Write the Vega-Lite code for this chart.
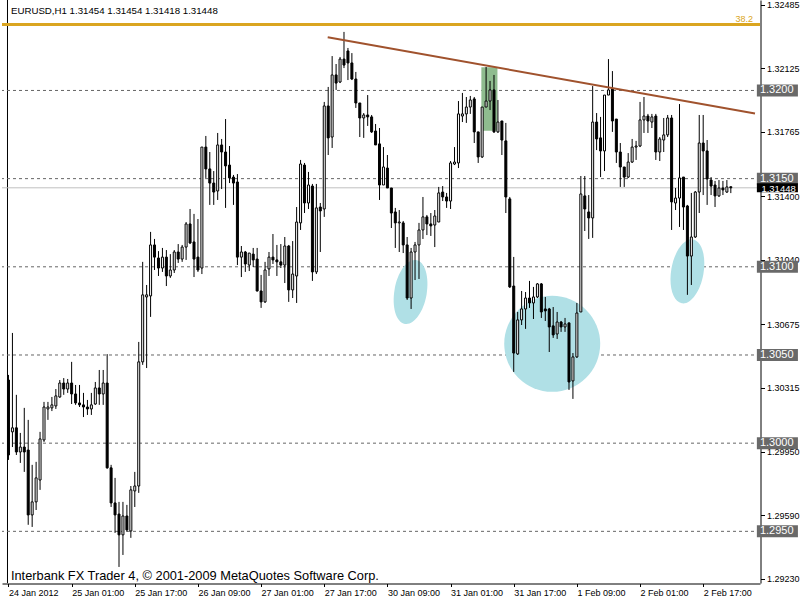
{
"$schema":"https://vega.github.io/schema/vega-lite/v6.json",
"width":758,"height":583,
"autosize":{"type":"none"},
"padding":{"left":2,"top":0,"right":40,"bottom":17},
"background":"white",
"config":{"view":{"stroke":null},"font":"Liberation Sans","axis":{"grid":false}},
"datasets":{
"candles":[
{"i":0,"o":1.30358,"h":1.30387,"l":1.29905,"c":1.29933},
{"i":1,"o":1.30064,"h":1.30625,"l":1.29978,"c":1.30087},
{"i":2,"o":1.30087,"h":1.30274,"l":1.29933,"c":1.29950},
{"i":3,"o":1.29950,"h":1.30058,"l":1.29888,"c":1.29978},
{"i":4,"o":1.29978,"h":1.30200,"l":1.29837,"c":1.29950},
{"i":5,"o":1.29961,"h":1.30132,"l":1.29537,"c":1.29593},
{"i":6,"o":1.29593,"h":1.29877,"l":1.29525,"c":1.29667},
{"i":7,"o":1.29667,"h":1.29894,"l":1.29621,"c":1.29803},
{"i":8,"o":1.29791,"h":1.30064,"l":1.29735,"c":1.30024},
{"i":9,"o":1.30018,"h":1.30234,"l":1.30007,"c":1.30205},
{"i":10,"o":1.30194,"h":1.30234,"l":1.30132,"c":1.30205},
{"i":11,"o":1.30200,"h":1.30262,"l":1.30182,"c":1.30217},
{"i":12,"o":1.30211,"h":1.30307,"l":1.30194,"c":1.30268},
{"i":13,"o":1.30262,"h":1.30358,"l":1.30257,"c":1.30341},
{"i":14,"o":1.30341,"h":1.30369,"l":1.30274,"c":1.30307},
{"i":15,"o":1.30307,"h":1.30364,"l":1.30285,"c":1.30341},
{"i":16,"o":1.30341,"h":1.30461,"l":1.30222,"c":1.30279},
{"i":17,"o":1.30279,"h":1.30330,"l":1.30217,"c":1.30228},
{"i":18,"o":1.30228,"h":1.30330,"l":1.30205,"c":1.30217},
{"i":19,"o":1.30217,"h":1.30285,"l":1.30148,"c":1.30205},
{"i":20,"o":1.30205,"h":1.30245,"l":1.30160,"c":1.30194},
{"i":21,"o":1.30194,"h":1.30285,"l":1.30160,"c":1.30217},
{"i":22,"o":1.30222,"h":1.30347,"l":1.30217,"c":1.30313},
{"i":23,"o":1.30313,"h":1.30415,"l":1.30217,"c":1.30279},
{"i":24,"o":1.30279,"h":1.30415,"l":1.30217,"c":1.30341},
{"i":25,"o":1.30341,"h":1.30505,"l":1.29855,"c":1.29860},
{"i":26,"o":1.29860,"h":1.29877,"l":1.29638,"c":1.29661},
{"i":27,"o":1.29661,"h":1.29803,"l":1.29491,"c":1.29593},
{"i":28,"o":1.29598,"h":1.29667,"l":1.29298,"c":1.29480},
{"i":29,"o":1.29480,"h":1.29667,"l":1.29366,"c":1.29587},
{"i":30,"o":1.29587,"h":1.29650,"l":1.29497,"c":1.29508},
{"i":31,"o":1.29502,"h":1.29757,"l":1.29463,"c":1.29735},
{"i":32,"o":1.29729,"h":1.29837,"l":1.29638,"c":1.29757},
{"i":33,"o":1.29757,"h":1.30574,"l":1.29718,"c":1.30461},
{"i":34,"o":1.30461,"h":1.31028,"l":1.30444,"c":1.30841},
{"i":35,"o":1.30829,"h":1.30897,"l":1.30426,"c":1.30841},
{"i":36,"o":1.30835,"h":1.31198,"l":1.30716,"c":1.31124},
{"i":37,"o":1.31124,"h":1.31158,"l":1.30982,"c":1.31055},
{"i":38,"o":1.31050,"h":1.31089,"l":1.30948,"c":1.30993},
{"i":39,"o":1.30993,"h":1.31107,"l":1.30971,"c":1.31055},
{"i":40,"o":1.31055,"h":1.31095,"l":1.30891,"c":1.30948},
{"i":41,"o":1.30948,"h":1.31072,"l":1.30937,"c":1.30982},
{"i":42,"o":1.30982,"h":1.31095,"l":1.30965,"c":1.31084},
{"i":43,"o":1.31084,"h":1.31129,"l":1.31022,"c":1.31044},
{"i":44,"o":1.31044,"h":1.31124,"l":1.31028,"c":1.31112},
{"i":45,"o":1.31112,"h":1.31254,"l":1.31039,"c":1.31243},
{"i":46,"o":1.31243,"h":1.31328,"l":1.31129,"c":1.31135},
{"i":47,"o":1.31141,"h":1.31300,"l":1.30942,"c":1.31044},
{"i":48,"o":1.31055,"h":1.31271,"l":1.30971,"c":1.30982},
{"i":49,"o":1.30993,"h":1.31679,"l":1.30959,"c":1.31679},
{"i":50,"o":1.31679,"h":1.31742,"l":1.31504,"c":1.31555},
{"i":51,"o":1.31555,"h":1.31651,"l":1.31351,"c":1.31475},
{"i":52,"o":1.31475,"h":1.31543,"l":1.31351,"c":1.31424},
{"i":53,"o":1.31430,"h":1.31759,"l":1.31379,"c":1.31691},
{"i":54,"o":1.31691,"h":1.31725,"l":1.31441,"c":1.31651},
{"i":55,"o":1.31651,"h":1.31838,"l":1.31334,"c":1.31572},
{"i":56,"o":1.31577,"h":1.31685,"l":1.31475,"c":1.31504},
{"i":57,"o":1.31509,"h":1.31521,"l":1.31351,"c":1.31475},
{"i":58,"o":1.31481,"h":1.31526,"l":1.31010,"c":1.31055},
{"i":59,"o":1.31055,"h":1.31118,"l":1.30942,"c":1.31084},
{"i":60,"o":1.31084,"h":1.31090,"l":1.30971,"c":1.31016},
{"i":61,"o":1.31010,"h":1.31078,"l":1.30976,"c":1.31078},
{"i":62,"o":1.31072,"h":1.31107,"l":1.30999,"c":1.31039},
{"i":63,"o":1.31044,"h":1.31107,"l":1.30860,"c":1.30863},
{"i":64,"o":1.30863,"h":1.30954,"l":1.30767,"c":1.30801},
{"i":65,"o":1.30801,"h":1.31028,"l":1.30795,"c":1.30982},
{"i":66,"o":1.30988,"h":1.31084,"l":1.30948,"c":1.31055},
{"i":67,"o":1.31055,"h":1.31186,"l":1.31016,"c":1.31039},
{"i":68,"o":1.31039,"h":1.31124,"l":1.30948,"c":1.31028},
{"i":69,"o":1.31028,"h":1.31129,"l":1.30993,"c":1.31010},
{"i":70,"o":1.31010,"h":1.31169,"l":1.30908,"c":1.31118},
{"i":71,"o":1.31118,"h":1.31124,"l":1.30801,"c":1.30869},
{"i":72,"o":1.30869,"h":1.31146,"l":1.30823,"c":1.30959},
{"i":73,"o":1.30948,"h":1.31339,"l":1.30795,"c":1.31254},
{"i":74,"o":1.31249,"h":1.31606,"l":1.31209,"c":1.31583},
{"i":75,"o":1.31577,"h":1.31589,"l":1.31305,"c":1.31362},
{"i":76,"o":1.31362,"h":1.31538,"l":1.31328,"c":1.31464},
{"i":77,"o":1.31458,"h":1.31470,"l":1.30920,"c":1.30971},
{"i":78,"o":1.30971,"h":1.31470,"l":1.30959,"c":1.31334},
{"i":79,"o":1.31339,"h":1.31362,"l":1.31084,"c":1.31317},
{"i":80,"o":1.31328,"h":1.31935,"l":1.31283,"c":1.31912},
{"i":81,"o":1.31912,"h":1.32020,"l":1.31634,"c":1.31731},
{"i":82,"o":1.31736,"h":1.32195,"l":1.31674,"c":1.32088},
{"i":83,"o":1.32088,"h":1.32150,"l":1.32003,"c":1.32042},
{"i":84,"o":1.32048,"h":1.32190,"l":1.32042,"c":1.32178},
{"i":85,"o":1.32178,"h":1.32332,"l":1.32127,"c":1.32144},
{"i":86,"o":1.32224,"h":1.32241,"l":1.32059,"c":1.32156},
{"i":87,"o":1.32156,"h":1.32212,"l":1.32059,"c":1.32065},
{"i":88,"o":1.32065,"h":1.32105,"l":1.31901,"c":1.31929},
{"i":89,"o":1.31929,"h":1.31929,"l":1.31736,"c":1.31844},
{"i":90,"o":1.31844,"h":1.31872,"l":1.31731,"c":1.31861},
{"i":91,"o":1.31861,"h":1.31974,"l":1.31799,"c":1.31850},
{"i":92,"o":1.31850,"h":1.31861,"l":1.31759,"c":1.31765},
{"i":93,"o":1.31770,"h":1.31810,"l":1.31691,"c":1.31691},
{"i":94,"o":1.31697,"h":1.31787,"l":1.31379,"c":1.31464},
{"i":95,"o":1.31464,"h":1.31679,"l":1.31464,"c":1.31566},
{"i":96,"o":1.31560,"h":1.31634,"l":1.31447,"c":1.31447},
{"i":97,"o":1.31447,"h":1.31447,"l":1.31220,"c":1.31305},
{"i":98,"o":1.31311,"h":1.31334,"l":1.31107,"c":1.31249},
{"i":99,"o":1.31249,"h":1.31322,"l":1.31084,"c":1.31254},
{"i":100,"o":1.31249,"h":1.31260,"l":1.31078,"c":1.31124},
{"i":101,"o":1.31124,"h":1.31169,"l":1.30812,"c":1.30823},
{"i":102,"o":1.30823,"h":1.31107,"l":1.30761,"c":1.31084},
{"i":103,"o":1.31084,"h":1.31141,"l":1.30925,"c":1.31124},
{"i":104,"o":1.31124,"h":1.31249,"l":1.30931,"c":1.31209},
{"i":105,"o":1.31209,"h":1.31396,"l":1.31158,"c":1.31283},
{"i":106,"o":1.31283,"h":1.31294,"l":1.31180,"c":1.31243},
{"i":107,"o":1.31243,"h":1.31305,"l":1.31175,"c":1.31232},
{"i":108,"o":1.31237,"h":1.31322,"l":1.31112,"c":1.31288},
{"i":109,"o":1.31254,"h":1.31453,"l":1.31254,"c":1.31419},
{"i":110,"o":1.31424,"h":1.31458,"l":1.31373,"c":1.31396},
{"i":111,"o":1.31396,"h":1.31419,"l":1.31334,"c":1.31373},
{"i":112,"o":1.31373,"h":1.31600,"l":1.31328,"c":1.31589},
{"i":113,"o":1.31583,"h":1.31679,"l":1.31577,"c":1.31594},
{"i":114,"o":1.31589,"h":1.31940,"l":1.31560,"c":1.31867},
{"i":115,"o":1.31855,"h":1.31986,"l":1.31821,"c":1.31867},
{"i":116,"o":1.31867,"h":1.31963,"l":1.31816,"c":1.31906},
{"i":117,"o":1.31906,"h":1.31969,"l":1.31867,"c":1.31946},
{"i":118,"o":1.31952,"h":1.31963,"l":1.31702,"c":1.31765},
{"i":119,"o":1.31765,"h":1.31765,"l":1.31589,"c":1.31623},
{"i":120,"o":1.31623,"h":1.31906,"l":1.31617,"c":1.31906},
{"i":121,"o":1.31906,"h":1.32133,"l":1.31906,"c":1.31940},
{"i":122,"o":1.31940,"h":1.32054,"l":1.31889,"c":1.32003},
{"i":123,"o":1.32003,"h":1.32088,"l":1.31759,"c":1.31765},
{"i":124,"o":1.31765,"h":1.31946,"l":1.31759,"c":1.31821},
{"i":125,"o":1.31827,"h":1.31827,"l":1.31634,"c":1.31719},
{"i":126,"o":1.31714,"h":1.31816,"l":1.31305,"c":1.31396},
{"i":127,"o":1.31385,"h":1.31396,"l":1.30880,"c":1.30886},
{"i":128,"o":1.30891,"h":1.31056,"l":1.30404,"c":1.30511},
{"i":129,"o":1.30506,"h":1.30744,"l":1.30500,"c":1.30699},
{"i":130,"o":1.30699,"h":1.30863,"l":1.30670,"c":1.30761},
{"i":131,"o":1.30761,"h":1.30857,"l":1.30648,"c":1.30823},
{"i":132,"o":1.30823,"h":1.30920,"l":1.30767,"c":1.30795},
{"i":133,"o":1.30795,"h":1.30886,"l":1.30704,"c":1.30829},
{"i":134,"o":1.30829,"h":1.30908,"l":1.30823,"c":1.30903},
{"i":135,"o":1.30903,"h":1.30908,"l":1.30710,"c":1.30744},
{"i":136,"o":1.30761,"h":1.30829,"l":1.30693,"c":1.30750},
{"i":137,"o":1.30761,"h":1.30767,"l":1.30517,"c":1.30659},
{"i":138,"o":1.30665,"h":1.30772,"l":1.30597,"c":1.30614},
{"i":139,"o":1.30619,"h":1.30744,"l":1.30591,"c":1.30687},
{"i":140,"o":1.30687,"h":1.30693,"l":1.30631,"c":1.30659},
{"i":141,"o":1.30659,"h":1.30710,"l":1.30631,"c":1.30676},
{"i":142,"o":1.30682,"h":1.30682,"l":1.30302,"c":1.30347},
{"i":143,"o":1.30353,"h":1.30511,"l":1.30251,"c":1.30489},
{"i":144,"o":1.30489,"h":1.30795,"l":1.30483,"c":1.30738},
{"i":145,"o":1.30744,"h":1.31515,"l":1.30744,"c":1.31413},
{"i":146,"o":1.31402,"h":1.31515,"l":1.31203,"c":1.31328},
{"i":147,"o":1.31311,"h":1.31407,"l":1.31158,"c":1.31277},
{"i":148,"o":1.31277,"h":1.32025,"l":1.31164,"c":1.31821},
{"i":149,"o":1.31821,"h":1.31872,"l":1.31662,"c":1.31725},
{"i":150,"o":1.31731,"h":1.31850,"l":1.31509,"c":1.31657},
{"i":151,"o":1.31657,"h":1.31974,"l":1.31543,"c":1.31974},
{"i":152,"o":1.31974,"h":1.32178,"l":1.31974,"c":1.32003},
{"i":153,"o":1.32008,"h":1.32110,"l":1.31765,"c":1.31827},
{"i":154,"o":1.31838,"h":1.31838,"l":1.31589,"c":1.31651},
{"i":155,"o":1.31651,"h":1.31702,"l":1.31453,"c":1.31566},
{"i":156,"o":1.31566,"h":1.31566,"l":1.31453,"c":1.31509},
{"i":157,"o":1.31509,"h":1.31645,"l":1.31504,"c":1.31594},
{"i":158,"o":1.31594,"h":1.31725,"l":1.31589,"c":1.31679},
{"i":159,"o":1.31679,"h":1.31714,"l":1.31606,"c":1.31685},
{"i":160,"o":1.31685,"h":1.31935,"l":1.31679,"c":1.31833},
{"i":161,"o":1.31833,"h":1.31963,"l":1.31759,"c":1.31855},
{"i":162,"o":1.31855,"h":1.31867,"l":1.31759,"c":1.31827},
{"i":163,"o":1.31821,"h":1.31867,"l":1.31787,"c":1.31850},
{"i":164,"o":1.31855,"h":1.31867,"l":1.31606,"c":1.31651},
{"i":165,"o":1.31651,"h":1.31736,"l":1.31600,"c":1.31725},
{"i":166,"o":1.31719,"h":1.31844,"l":1.31651,"c":1.31748},
{"i":167,"o":1.31748,"h":1.31861,"l":1.31736,"c":1.31844},
{"i":168,"o":1.31844,"h":1.31861,"l":1.31209,"c":1.31368},
{"i":169,"o":1.31362,"h":1.31447,"l":1.31322,"c":1.31390},
{"i":170,"o":1.31390,"h":1.31923,"l":1.31226,"c":1.31504},
{"i":171,"o":1.31509,"h":1.31509,"l":1.31209,"c":1.31339},
{"i":172,"o":1.31345,"h":1.31351,"l":1.30841,"c":1.31061},
{"i":173,"o":1.31061,"h":1.31419,"l":1.30897,"c":1.31169},
{"i":174,"o":1.31169,"h":1.31430,"l":1.31164,"c":1.31424},
{"i":175,"o":1.31424,"h":1.31861,"l":1.31305,"c":1.31702},
{"i":176,"o":1.31702,"h":1.31861,"l":1.31407,"c":1.31657},
{"i":177,"o":1.31657,"h":1.31719,"l":1.31351,"c":1.31498},
{"i":178,"o":1.31492,"h":1.31509,"l":1.31407,"c":1.31458},
{"i":179,"o":1.31464,"h":1.31487,"l":1.31339,"c":1.31402},
{"i":180,"o":1.31402,"h":1.31492,"l":1.31396,"c":1.31447},
{"i":181,"o":1.31447,"h":1.31487,"l":1.31407,"c":1.31436},
{"i":182,"o":1.31424,"h":1.31492,"l":1.31419,"c":1.31453},
{"i":183,"o":1.31454,"h":1.31454,"l":1.31418,"c":1.31448}
],
"levels":[
{"level":1.32,"label":"1.3200"},
{"level":1.315,"label":"1.3150"},
{"level":1.31,"label":"1.3100"},
{"level":1.305,"label":"1.3050"},
{"level":1.30,"label":"1.3000"},
{"level":1.295,"label":"1.2950"}
],
"trend":[{"i":80.875,"p":1.32302},{"i":189.125,"p":1.31869}],
"zone":[{"i":119.8,"i2":123.875,"p":1.32131,"p2":1.31772}],
"circle":[{"i":137.75,"p":1.30563}],
"ellipses":[{"i":101.875,"p":1.30857},{"i":172.0,"p":1.30974}]
},
"layer":[
{"data":{"name":"candles"},
 "mark":{"type":"rule","color":"black","strokeWidth":1,"opacity":0},
 "encoding":{"x":{"field":"i","type":"quantitative","scale":{"domain":[-0.375,189.125],"nice":false,"zero":false},
   "axis":{"orient":"bottom","title":null,"grid":false,"offset":0.5,"values":[0,16,32,48,64,80,96,112,128,144,160,176],
    "labelExpr":"['24 Jan 2012','25 Jan 01:00','25 Jan 17:00','26 Jan 09:00','27 Jan 01:00','27 Jan 17:00','30 Jan 09:00','31 Jan 01:00','31 Jan 17:00','1 Feb 09:00','2 Feb 01:00','2 Feb 17:00'][round(datum.value/16)]",
    "labelAlign":"left","labelFont":"Liberation Sans","labelFontSize":9,"labelColor":"black","labelPadding":2,
    "tickColor":"black","tickSize":3,"domainColor":"black","labelOverlap":false,"labelFlush":false,"labelBound":false}},
  "y":{"field":"l","type":"quantitative","scale":{"domain":[1.29207,1.32513],"nice":false,"zero":false},
   "axis":{"orient":"right","title":null,"grid":false,"offset":0.5,
    "values":[1.32485,1.32305,1.32125,1.31945,1.31765,1.3158,1.314,1.3122,1.3104,1.30855,1.30675,1.30495,1.30315,1.30135,1.2995,1.2977,1.2959,1.2941,1.2923],
    "format":".5f","labelFont":"Liberation Sans","labelFontSize":9,"labelColor":"black","labelPadding":2,
    "tickColor":"black","tickSize":4,"domainColor":"black","labelOverlap":false,"labelFlush":false,"labelBound":false}},
  "y2":{"field":"h"}}},
{"data":{"values":[{"i":-0.25}]},
 "mark":{"type":"rule","color":"black","strokeWidth":1},
 "encoding":{"x":{"field":"i","type":"quantitative","scale":{"domain":[-0.375,189.125],"nice":false,"zero":false}}}},
{"data":{"name":"levels"},
 "mark":{"type":"rule","color":"#666666","strokeWidth":1,"strokeDash":[3,3]},
 "encoding":{"y":{"field":"level","type":"quantitative","scale":{"domain":[1.29207,1.32513],"nice":false,"zero":false}}}},
{"data":{"values":[{"p":1.31448}]},
 "mark":{"type":"rule","color":"#c0c0c0","strokeWidth":1},
 "encoding":{"y":{"field":"p","type":"quantitative","scale":{"domain":[1.29207,1.32513],"nice":false,"zero":false}}}},
{"data":{"values":[{"p":1.32374}]},
 "mark":{"type":"rule","color":"#daa520","strokeWidth":3},
 "encoding":{"y":{"field":"p","type":"quantitative","scale":{"domain":[1.29207,1.32513],"nice":false,"zero":false}}}},
{"data":{"name":"circle"},
 "mark":{"type":"point","shape":"circle","filled":true,"color":"#b0e0e6","opacity":1,"size":9216},
 "encoding":{"x":{"field":"i","type":"quantitative","scale":{"domain":[-0.375,189.125],"nice":false,"zero":false}},
  "y":{"field":"p","type":"quantitative","scale":{"domain":[1.29207,1.32513],"nice":false,"zero":false}}}},
{"data":{"name":"ellipses"},
 "mark":{"type":"point","shape":"M-0.5,0A0.5,1,0,1,0,0.5,0A0.5,1,0,1,0,-0.5,0Z","filled":true,"color":"#b0e0e6","opacity":1,"size":4200,"angle":10},
 "encoding":{"x":{"field":"i","type":"quantitative","scale":{"domain":[-0.375,189.125],"nice":false,"zero":false}},
  "y":{"field":"p","type":"quantitative","scale":{"domain":[1.29207,1.32513],"nice":false,"zero":false}}}},
{"data":{"name":"zone"},
 "mark":{"type":"rect","color":"#8fbc8f","opacity":1},
 "encoding":{"x":{"field":"i","type":"quantitative","scale":{"domain":[-0.375,189.125],"nice":false,"zero":false}},
  "x2":{"field":"i2"},
  "y":{"field":"p","type":"quantitative","scale":{"domain":[1.29207,1.32513],"nice":false,"zero":false}},
  "y2":{"field":"p2"}}},
{"data":{"name":"candles"},
 "mark":{"type":"rule","color":"black","strokeWidth":1},
 "encoding":{"x":{"field":"i","type":"quantitative","scale":{"domain":[-0.375,189.125],"nice":false,"zero":false}},
  "y":{"field":"l","type":"quantitative","scale":{"domain":[1.29207,1.32513],"nice":false,"zero":false}},
  "y2":{"field":"h"}}},
{"data":{"name":"candles"},
 "mark":{"type":"bar","width":2,"stroke":"black","strokeWidth":1},
 "encoding":{"x":{"field":"i","type":"quantitative","scale":{"domain":[-0.375,189.125],"nice":false,"zero":false}},
  "y":{"field":"o","type":"quantitative","scale":{"domain":[1.29207,1.32513],"nice":false,"zero":false}},
  "y2":{"field":"c"},
  "fill":{"condition":{"test":"datum.o > datum.c","value":"black"},"value":"white"}}},
{"data":{"name":"trend"},
 "mark":{"type":"line","color":"#a0522d","strokeWidth":2},
 "encoding":{"x":{"field":"i","type":"quantitative","scale":{"domain":[-0.375,189.125],"nice":false,"zero":false}},
  "y":{"field":"p","type":"quantitative","scale":{"domain":[1.29207,1.32513],"nice":false,"zero":false}}}},
{"data":{"values":[{"i":188.625,"p":1.32388,"label":"38.2"}]},
 "mark":{"type":"text","align":"right","baseline":"alphabetic","color":"#daa520","font":"Liberation Sans","fontSize":9},
 "encoding":{"x":{"field":"i","type":"quantitative","scale":{"domain":[-0.375,189.125],"nice":false,"zero":false}},
  "y":{"field":"p","type":"quantitative","scale":{"domain":[1.29207,1.32513],"nice":false,"zero":false}},
  "text":{"field":"label"}}},
{"data":{"name":"levels"},
 "mark":{"type":"rule","color":"#696969","strokeWidth":12,"strokeCap":"butt"},
 "encoding":{"x":{"datum":189.6,"type":"quantitative","scale":{"domain":[-0.375,189.125],"nice":false,"zero":false}},
  "x2":{"datum":200},
  "y":{"field":"level","type":"quantitative","scale":{"domain":[1.29207,1.32513],"nice":false,"zero":false}}}},
{"data":{"name":"levels"},
 "mark":{"type":"text","align":"center","baseline":"middle","color":"white","font":"Liberation Sans","fontSize":11},
 "encoding":{"x":{"datum":194.625,"type":"quantitative","scale":{"domain":[-0.375,189.125],"nice":false,"zero":false}},
  "y":{"field":"level","type":"quantitative","scale":{"domain":[1.29207,1.32513],"nice":false,"zero":false}},
  "text":{"field":"label"}}},
{"data":{"values":[{"p":1.31448,"label":"1.31448"}]},
 "mark":{"type":"rule","color":"black","strokeWidth":9,"strokeCap":"butt"},
 "encoding":{"x":{"datum":189.6,"type":"quantitative","scale":{"domain":[-0.375,189.125],"nice":false,"zero":false}},
  "x2":{"datum":200},
  "y":{"field":"p","type":"quantitative","scale":{"domain":[1.29207,1.32513],"nice":false,"zero":false}}}},
{"data":{"values":[{"p":1.31448,"label":"1.31448"}]},
 "mark":{"type":"text","align":"left","baseline":"middle","color":"white","font":"Liberation Sans","fontSize":9.5,"dy":1},
 "encoding":{"x":{"datum":190.75,"type":"quantitative","scale":{"domain":[-0.375,189.125],"nice":false,"zero":false}},
  "y":{"field":"p","type":"quantitative","scale":{"domain":[1.29207,1.32513],"nice":false,"zero":false}},
  "text":{"field":"label"}}},
{"data":{"values":[{"i":0.625,"p":1.32434,"label":"EURUSD,H1  1.31454 1.31454 1.31418 1.31448"},{"i":0.625,"p":1.29224,"label":"Interbank FX Trader 4, © 2001-2009 MetaQuotes Software Corp.","big":true}]},
 "mark":{"type":"text","align":"left","baseline":"alphabetic","color":"black","font":"Liberation Sans"},
 "encoding":{"x":{"field":"i","type":"quantitative","scale":{"domain":[-0.375,189.125],"nice":false,"zero":false}},
  "y":{"field":"p","type":"quantitative","scale":{"domain":[1.29207,1.32513],"nice":false,"zero":false}},
  "text":{"field":"label"},
  "size":{"condition":{"test":"datum.big","value":12.8},"value":9.7}}}
]
}
